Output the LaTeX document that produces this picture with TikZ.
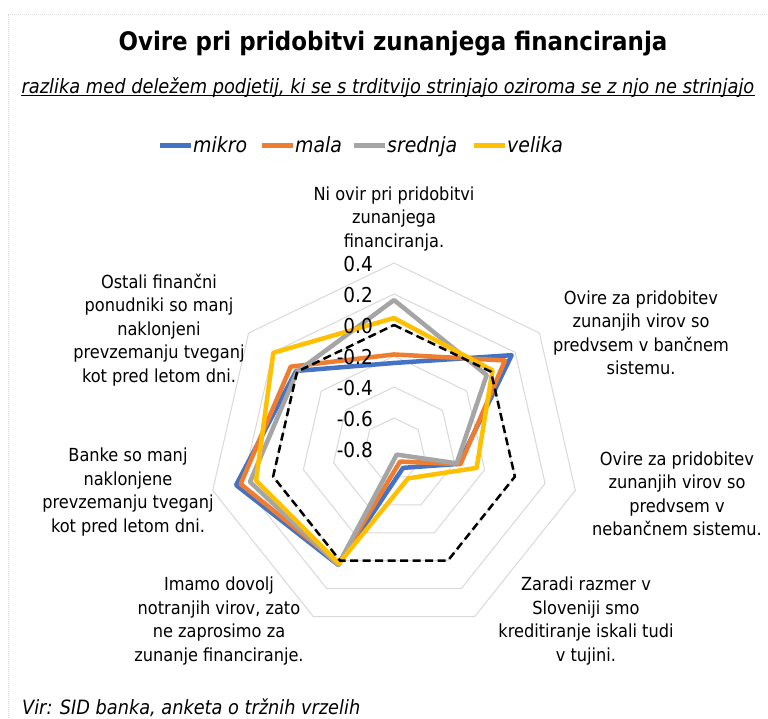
\documentclass[tikz,border=0pt]{standalone}
\usepackage{fontspec}
\setmainfont{DejaVu Sans Condensed}
\definecolor{cmikro}{HTML}{4472C4}
\definecolor{cmala}{HTML}{ED7D31}
\definecolor{csred}{HTML}{A5A5A5}
\definecolor{cvel}{HTML}{FFC000}
\definecolor{cgrid}{HTML}{D9D9D9}
\newcommand\rp[2]{({-90+#1*360/7}:{(#2+0.8)*155})}
\tikzset{
  serie/.style={line width=4.5pt, line join=round},
  gridring/.style={cgrid, line width=1pt},
  catlabel/.style={align=center, font=\fontsize{18}{23.5}\selectfont, inner sep=0pt},
  vallabel/.style={anchor=east, font=\fontsize{20.5}{22}\selectfont, inner sep=0pt},
  legline/.style={line width=5pt},
  legtext/.style={anchor=base west, inner sep=0pt, font=\fontsize{21}{24}\selectfont\itshape},
}
\begin{document}
\begin{tikzpicture}[x=1pt,y=-1pt]
\useasboundingbox (0,0) rectangle (768,718);
\fill[white] (0,0) rectangle (768,718);
% frame
\coordinate (fbl) at (8,718);
\coordinate (ftl) at (8,14);
\coordinate (ftr) at (768,14);
\draw[cgrid, densely dotted, line width=1pt] (fbl) -- (ftl) -- (ftr);
% title
\node[font=\fontsize{25.5}{30}\selectfont\bfseries] (title) at (393,44) {Ovire pri pridobitvi zunanjega financiranja};
\node[font=\fontsize{19.8}{23}\selectfont\itshape, inner sep=0pt] (sub) at (388,88) {razlika med deležem podjetij, ki se s trditvijo strinjajo oziroma se z njo ne strinjajo};
\draw[line width=0.8pt] ([yshift=3pt]sub.south west) -- ([yshift=3pt]sub.south east);
% legend
\coordinate (lm1) at (160,145); \coordinate (lm2) at (191,145);
\coordinate (la1) at (262,145); \coordinate (la2) at (293,145);
\coordinate (ls1) at (354,145); \coordinate (ls2) at (385,145);
\coordinate (lv1) at (474,145); \coordinate (lv2) at (505,145);
\draw[legline, cmikro] (lm1) -- (lm2);
\draw[legline, cmala] (la1) -- (la2);
\draw[legline, csred] (ls1) -- (ls2);
\draw[legline, cvel] (lv1) -- (lv2);
\node[legtext] (tm) at (193,152) {mikro};
\node[legtext] (ta) at (295,152) {mala};
\node[legtext] (ts) at (387,152) {srednja};
\node[legtext] (tv) at (507,152) {velika};
% grid rings
\begin{scope}[shift={(394,449)}]
\foreach \v in {-0.6,-0.4,-0.2,0,0.2,0.4}{
  \draw[gridring] \rp{0}{\v} -- \rp{1}{\v} -- \rp{2}{\v} -- \rp{3}{\v} -- \rp{4}{\v} -- \rp{5}{\v} -- \rp{6}{\v} -- cycle;
}
% series
\draw[serie, cmikro] \rp{0}{-0.245} -- \rp{1}{0.171} -- \rp{2}{-0.37} -- \rp{3}{-0.665} -- \rp{4}{0.03} -- \rp{5}{0.245} -- \rp{6}{0.008} -- cycle;
\draw[serie, cmala] \rp{0}{-0.19} -- \rp{1}{0.116} -- \rp{2}{-0.36} -- \rp{3}{-0.71} -- \rp{4}{0.02} -- \rp{5}{0.215} -- \rp{6}{0.052} -- cycle;
\draw[serie, csred] \rp{0}{0.161} -- \rp{1}{-0.035} -- \rp{2}{-0.385} -- \rp{3}{-0.76} -- \rp{4}{0.03} -- \rp{5}{0.153} -- \rp{6}{0.0} -- cycle;
\draw[serie, cvel] \rp{0}{0.045} -- \rp{1}{0.013} -- \rp{2}{-0.253} -- \rp{3}{-0.59} -- \rp{4}{0.02} -- \rp{5}{0.113} -- \rp{6}{0.196} -- cycle;
\draw[black, line width=2.5pt, dash pattern=on 8pt off 4.5pt, line join=round] \rp{0}{0} -- \rp{1}{0} -- \rp{2}{0} -- \rp{3}{0} -- \rp{4}{0} -- \rp{5}{0} -- \rp{6}{0} -- cycle;
\end{scope}
% value labels
\node[vallabel] (v1) at (373,264) {0.4};
\node[vallabel] (v2) at (373,295) {0.2};
\node[vallabel] (v3) at (373,326) {0.0};
\node[vallabel] (v4) at (373,357) {-0.2};
\node[vallabel] (v5) at (373,388) {-0.4};
\node[vallabel] (v6) at (373,419) {-0.6};
\node[vallabel] (v7) at (373,450) {-0.8};
% category labels
\node[catlabel] (c1) at (394,219) {Ni ovir pri pridobitvi\\zunanjega\\financiranja.};
\node[catlabel] (c2) at (641,333) {Ovire za pridobitev\\zunanjih virov so\\predvsem v bančnem\\sistemu.};
\node[catlabel] (c3) at (677,494) {Ovire za pridobitev\\zunanjih virov so\\predvsem v\\nebančnem sistemu.};
\node[catlabel] (c4) at (586,621) {Zaradi razmer v\\Sloveniji smo\\kreditiranje iskali tudi\\v tujini.};
\node[catlabel] (c5) at (219,621) {Imamo dovolj\\notranjih virov, zato\\ne zaprosimo za\\zunanje financiranje.};
\node[catlabel] (c6) at (128,492) {Banke so manj\\naklonjene\\prevzemanju tveganj\\kot pred letom dni.};
\node[catlabel] (c7) at (159,330) {Ostali finančni\\ponudniki so manj\\naklonjeni\\prevzemanju tveganj\\kot pred letom dni.};
% source
\node[anchor=west, inner sep=0pt, font=\fontsize{19.7}{22}\selectfont\itshape] (src) at (22,708) {Vir: SID banka, anketa o tržnih vrzelih};
\end{tikzpicture}
\end{document}
